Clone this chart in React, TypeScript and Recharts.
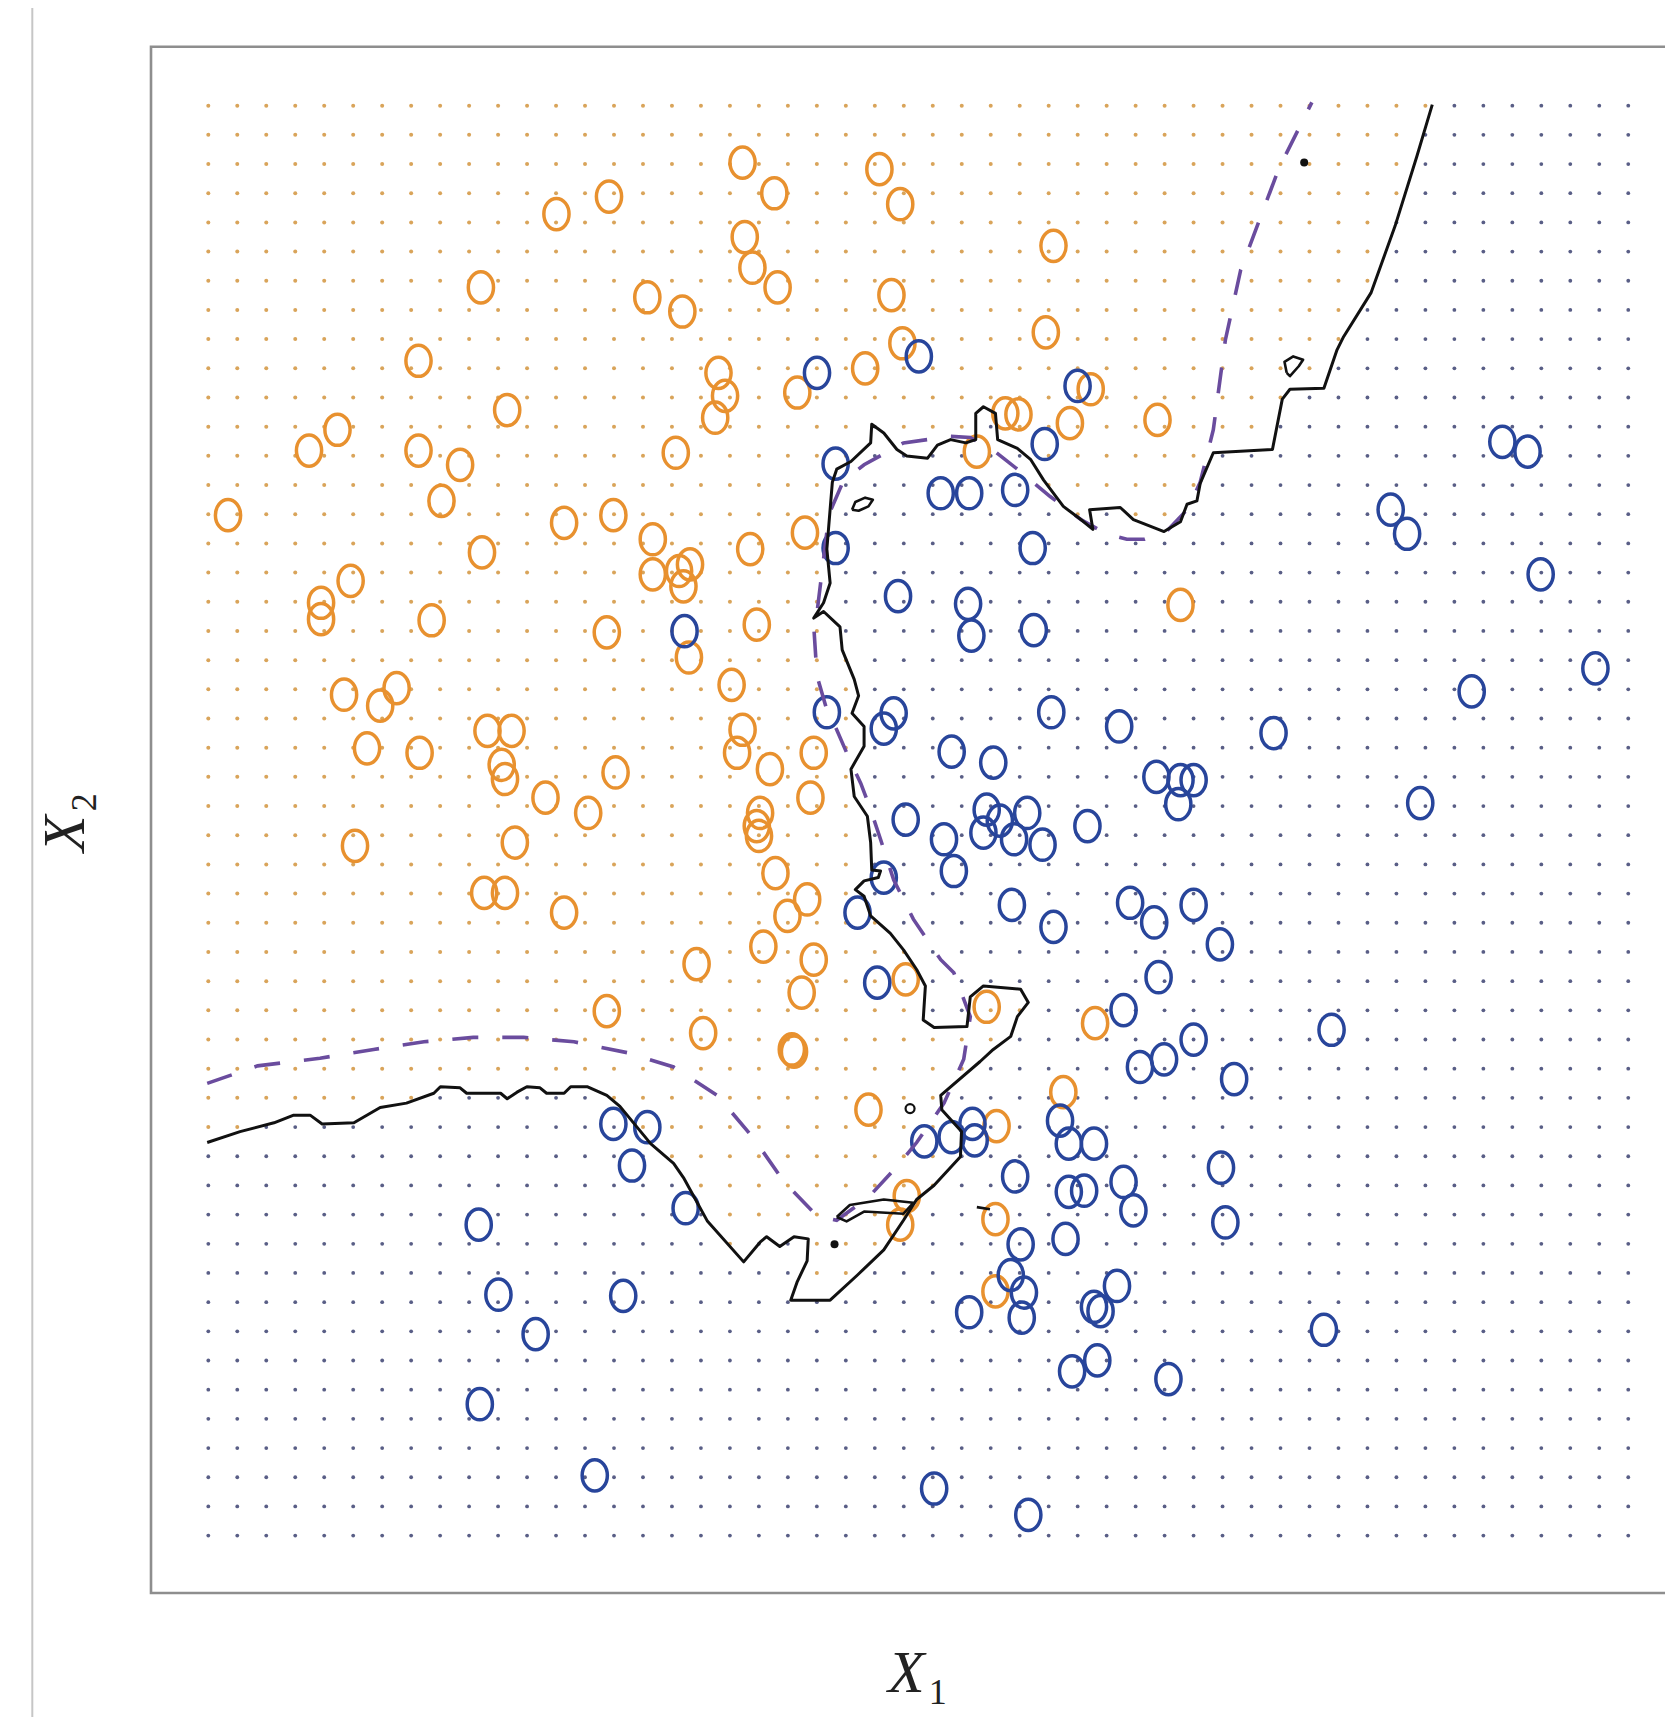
import { ScatterChart, Scatter, XAxis, YAxis } from 'recharts'

type Pt = [number, number]

// training observations (X1, X2)
const orangePoints: Pt[] = [
  [0.18, 9.32], [0.92, 9.91], [1.18, 10.1], [1.03, 8.52], [1.03, 8.37], [1.3, 8.72], [1.24, 7.68], [1.57, 7.58],
  [1.72, 7.74], [1.45, 7.19], [1.93, 7.15], [1.34, 6.3], [1.92, 10.73], [1.92, 9.91], [2.3, 9.78], [2.13, 9.45],
  [2.49, 11.4], [2.5, 8.98], [2.04, 8.36], [2.73, 10.28], [3.18, 12.07], [3.66, 12.23], [3.25, 9.25], [3.7, 9.32],
  [2.55, 7.35], [2.77, 7.35], [2.68, 7.04], [2.71, 6.91], [3.08, 6.74], [3.47, 6.6], [3.72, 6.97], [2.8, 6.33],
  [2.52, 5.87], [2.71, 5.87], [3.25, 5.69], [3.64, 8.25], [3.64, 4.79], [4.01, 11.31], [4.33, 11.18], [4.27, 9.89],
  [4.06, 9.1], [4.06, 8.78], [4.3, 8.81], [4.4, 8.87], [4.34, 8.67], [4.39, 8.02], [4.88, 12.54], [5.17, 12.26],
  [4.9, 11.86], [4.97, 11.58], [5.2, 11.4], [4.66, 10.62], [4.72, 10.41], [4.63, 10.21], [4.95, 9.01], [5.01, 8.32],
  [4.78, 7.77], [4.88, 7.36], [4.83, 7.15], [5.13, 7.0], [5.53, 7.15], [5.5, 6.74], [5.04, 6.6], [5.01, 6.48],
  [5.03, 6.39], [5.18, 6.05], [5.47, 5.81], [5.29, 5.66], [5.07, 5.38], [5.53, 5.26], [5.42, 4.96], [4.46, 5.22],
  [4.52, 4.59], [5.33, 4.44], [5.35, 4.42], [5.38, 10.44], [5.45, 9.16], [6.13, 12.48], [6.32, 12.16], [6.24, 11.33],
  [6.34, 10.89], [6.0, 10.66], [7.72, 11.78], [7.65, 10.99], [8.67, 10.19], [7.87, 10.16], [8.06, 10.47], [7.28, 10.25],
  [7.4, 10.24], [7.02, 9.9], [8.88, 8.5], [6.37, 5.08], [7.11, 4.83], [8.1, 4.68], [7.81, 4.05], [6.03, 3.89],
  [7.2, 3.74], [6.38, 3.1], [6.32, 2.84], [7.19, 2.89], [7.19, 2.23],
]

const bluePoints: Pt[] = [
  [5.56, 10.62], [6.49, 10.77], [7.94, 10.5], [7.64, 9.97], [5.73, 9.79], [6.69, 9.52], [6.95, 9.52], [7.37, 9.55],
  [5.73, 9.02], [7.53, 9.02], [6.3, 8.58], [6.94, 8.51], [6.97, 8.22], [7.54, 8.27], [4.35, 8.26], [5.65, 7.52],
  [6.17, 7.37], [6.26, 7.51], [7.7, 7.52], [8.32, 7.39], [9.73, 7.33], [11.54, 7.71], [12.67, 7.92], [12.17, 8.78],
  [10.8, 9.37], [10.95, 9.15], [11.82, 9.99], [12.05, 9.9], [6.79, 7.16], [7.17, 7.06], [8.66, 6.93], [8.88, 6.9],
  [9.0, 6.9], [8.86, 6.68], [11.07, 6.69], [6.37, 6.54], [6.72, 6.36], [6.81, 6.07], [7.11, 6.63], [7.08, 6.42],
  [7.36, 6.36], [7.48, 6.6], [7.62, 6.31], [7.23, 6.53], [8.03, 6.48], [6.17, 6.01], [5.93, 5.69], [7.34, 5.76],
  [7.72, 5.56], [8.42, 5.78], [8.64, 5.6], [9.0, 5.76], [9.24, 5.4], [8.68, 5.1], [6.11, 5.05], [8.36, 4.8],
  [8.51, 4.28], [8.73, 4.35], [9.0, 4.53], [9.37, 4.17], [10.26, 4.62], [3.7, 3.76], [4.01, 3.73], [3.87, 3.38],
  [4.36, 2.99], [2.47, 2.84], [2.65, 2.2], [3.79, 2.19], [2.99, 1.84], [2.48, 1.2], [3.53, 0.55], [6.54, 3.6],
  [6.79, 3.64], [6.98, 3.76], [7.0, 3.61], [7.78, 3.79], [7.86, 3.58], [8.09, 3.58], [7.37, 3.28], [7.86, 3.14],
  [8.0, 3.15], [8.36, 3.23], [8.45, 2.97], [9.25, 3.36], [9.29, 2.86], [7.42, 2.66], [7.83, 2.71], [7.33, 2.38],
  [7.45, 2.22], [7.43, 1.99], [6.95, 2.04], [8.09, 2.09], [8.15, 2.05], [8.3, 2.28], [7.89, 1.5], [8.12, 1.6],
  [8.77, 1.43], [10.19, 1.88], [6.63, 0.43], [7.49, 0.19],
]

// KNN (K=1) decision boundary from left to top
const knnBoundary: Pt[] = [
  [-0.01, 3.59], [0.29, 3.69], [0.6, 3.77], [0.78, 3.84], [0.93, 3.84], [1.04, 3.76], [1.33, 3.77], [1.57, 3.91],
  [1.81, 3.95], [2.06, 4.04], [2.12, 4.1], [2.3, 4.09], [2.36, 4.04], [2.67, 4.04], [2.73, 3.99], [2.82, 4.05],
  [2.91, 4.1], [3.03, 4.09], [3.09, 4.04], [3.25, 4.04], [3.31, 4.1], [3.46, 4.1], [3.64, 4.02], [3.76, 3.92],
  [4.04, 3.58], [4.25, 3.4], [4.34, 3.27], [4.56, 2.87], [4.89, 2.5], [5.04, 2.68], [5.1, 2.73], [5.22, 2.64],
  [5.35, 2.73], [5.48, 2.71], [5.47, 2.51], [5.38, 2.32], [5.32, 2.15], [5.68, 2.15], [5.93, 2.38], [6.17, 2.61],
  [6.35, 2.88], [6.47, 3.07], [6.63, 3.2], [6.87, 3.46], [6.88, 3.69], [6.7, 3.89], [6.69, 4.02], [7.05, 4.33],
  [7.17, 4.44], [7.33, 4.56], [7.39, 4.74], [7.49, 4.87], [7.42, 4.99], [7.08, 5.02], [6.96, 4.92], [6.93, 4.65],
  [6.63, 4.64], [6.53, 4.71], [6.55, 5.02], [6.47, 5.17], [6.35, 5.35], [6.23, 5.5], [6.05, 5.66], [5.99, 5.84],
  [5.91, 5.9], [5.99, 5.98], [6.12, 6.01], [6.14, 6.07], [6.06, 6.08], [6.05, 6.33], [6.02, 6.57], [5.9, 6.75],
  [5.87, 7.0], [5.99, 7.21], [5.99, 7.39], [5.88, 7.51], [5.94, 7.67], [5.9, 7.82], [5.79, 8.09], [5.77, 8.3],
  [5.62, 8.44], [5.53, 8.38], [5.62, 8.52], [5.68, 8.7], [5.65, 9.01], [5.7, 9.62], [5.74, 9.74], [5.87, 9.81],
  [6.05, 9.98], [6.06, 10.15], [6.17, 10.07], [6.29, 9.92], [6.38, 9.86], [6.57, 9.84], [6.66, 9.96], [6.78, 10.01],
  [6.92, 9.98], [7.01, 10.01], [7.01, 10.25], [7.08, 10.31], [7.19, 10.25], [7.21, 10.01], [7.39, 9.93], [7.51, 9.83],
  [7.63, 9.64], [7.81, 9.4], [7.97, 9.28], [8.08, 9.19], [8.05, 9.37], [8.33, 9.39], [8.45, 9.28], [8.73, 9.17],
  [8.88, 9.26], [8.94, 9.42], [9.03, 9.45], [9.06, 9.61], [9.18, 9.89], [9.72, 9.92], [9.81, 10.38], [9.88, 10.47],
  [10.19, 10.48], [10.31, 10.83], [10.37, 10.95], [10.62, 11.35], [10.84, 11.96], [11.04, 12.6], [11.18, 13.07],
]

const knnLoops: Pt[][] = [
  [[5.88, 9.37], [5.91, 9.44], [6.0, 9.48], [6.07, 9.46], [6.03, 9.4], [5.94, 9.36], [5.88, 9.37]],
  [[9.85, 10.62], [9.83, 10.72], [9.91, 10.77], [10.0, 10.74], [9.96, 10.68], [9.88, 10.59], [9.85, 10.62]],
  [[5.74, 2.91], [5.86, 3.02], [6.17, 3.07], [6.44, 3.04], [6.35, 2.94], [5.99, 2.96], [5.83, 2.87], [5.74, 2.91]],
  [[7.02, 3.0], [7.14, 2.98]],
]
const knnDots: Pt[] = [[10.01, 12.54], [5.72, 2.66]]
const knnRings: Pt[] = [[6.41, 3.9]]

// Bayes decision boundary
const bayesBoundary: Pt[] = [
  [-0.01, 4.13], [0.45, 4.29], [1.02, 4.36], [1.51, 4.44], [1.97, 4.51], [2.42, 4.55], [2.88, 4.55], [3.34, 4.51],
  [3.83, 4.41], [4.25, 4.28], [4.65, 4.02], [4.98, 3.63], [5.26, 3.23], [5.56, 2.92], [5.74, 2.88], [6.03, 3.09],
  [6.29, 3.37], [6.47, 3.59], [6.72, 3.95], [6.9, 4.35], [6.96, 4.74], [6.81, 5.14], [6.69, 5.26], [6.44, 5.63],
  [6.26, 5.99], [6.14, 6.36], [6.05, 6.63], [5.96, 6.87], [5.87, 7.06], [5.74, 7.36], [5.65, 7.54], [5.56, 7.85],
  [5.53, 8.31], [5.56, 8.43], [5.62, 8.92], [5.67, 9.33], [5.8, 9.63], [5.99, 9.78], [6.35, 9.98], [6.78, 10.04],
  [6.96, 10.03], [7.2, 9.89], [7.39, 9.74], [7.69, 9.49], [7.97, 9.28], [8.2, 9.15], [8.39, 9.1], [8.55, 9.1],
  [8.76, 9.18], [8.95, 9.38], [9.06, 9.62], [9.18, 10.1], [9.29, 10.92], [9.43, 11.56], [9.78, 12.49], [10.08, 13.09],
]

const GRID_SIZE = 50
const GRID_X_MAX = 12.97
const GRID_Y_MAX = 13.06

const ORANGE = '#E8912F'
const BLUE = '#28459B'
const ORANGE_DOT = '#D9A45A'
const BLUE_DOT = '#595E86'
const PURPLE = '#6A4C9E'

const rows = (pts: Pt[]) => pts.map(([x, y]) => ({ x, y }))

function insidePolygon(x: number, y: number, poly: Pt[]) {
  let inside = false
  for (let i = 0, j = poly.length - 1; i < poly.length; j = i++) {
    const [xi, yi] = poly[i]
    const [xj, yj] = poly[j]
    if (yi > y !== yj > y && x < ((xj - xi) * (y - yi)) / (yj - yi) + xi) inside = !inside
  }
  return inside
}

// orange side of the KNN boundary: closed round the top left corner
const orangeRegion: Pt[] = [...knnBoundary, [11.18, 14.5], [-1.5, 14.5], [-1.5, 3.59]]

const orangeGrid: { x: number; y: number }[] = []
const blueGrid: { x: number; y: number }[] = []
for (let i = 0; i < GRID_SIZE; i++) {
  for (let j = 0; j < GRID_SIZE; j++) {
    const x = (i * GRID_X_MAX) / (GRID_SIZE - 1)
    const y = (j * GRID_Y_MAX) / (GRID_SIZE - 1)
    if (insidePolygon(x, y, orangeRegion)) orangeGrid.push({ x, y })
    else blueGrid.push({ x, y })
  }
}

const ringShape = (color: string) => (p: any) => (
  <ellipse cx={p.cx} cy={p.cy} rx={12.6} ry={15.6} fill="none" stroke={color} strokeWidth={3.5} />
)
const dotShape = (color: string, r: number) => (p: any) => <circle cx={p.cx} cy={p.cy} r={r} fill={color} />
const openDot = (p: any) => <circle cx={p.cx} cy={p.cy} r={4.5} fill="none" stroke="#111" strokeWidth={2.2} />
const noShape = () => <g />

const W = 1665
const H = 1717

export default function App() {
  return (
    <div style={{ position: 'absolute', left: 0, top: 0, width: W, height: H, background: '#fff' }}>
      <svg width={W} height={H} style={{ position: 'absolute', left: 0, top: 0 }}>
        <line x1={32.3} y1={8} x2={32.3} y2={H} stroke="#c6c6c6" strokeWidth={2} />
        <path d={`M ${W} 46.7 H 151 V 1593 H ${W}`} fill="none" stroke="#8e8e8e" strokeWidth={2.6} />
        <text x={888} y={1692} fontFamily="'Liberation Serif', serif" fontStyle="italic" fontSize={60} fill="#222">
          X
          <tspan fontStyle="normal" fontSize={36} dx={4} dy={12}>
            1
          </tspan>
        </text>
        <text
          x={84}
          y={852}
          transform="rotate(-90 84 852)"
          fontFamily="'Liberation Serif', serif"
          fontStyle="italic"
          fontSize={60}
          fill="#222"
        >
          X
          <tspan fontStyle="normal" fontSize={36} dx={4} dy={12}>
            2
          </tspan>
        </text>
      </svg>
      <div style={{ position: 'absolute', left: 0, top: 0 }}>
        <ScatterChart width={W} height={H} margin={{ top: 2.74, right: 0.62, bottom: 71.91, left: 98.82 }}>
          <XAxis type="number" dataKey="x" domain={[-1, 13.3]} hide allowDataOverflow />
          <YAxis type="number" dataKey="y" domain={[-1, 14]} hide allowDataOverflow />
          <Scatter data={orangeGrid} shape={dotShape(ORANGE_DOT, 2)} isAnimationActive={false} />
          <Scatter data={blueGrid} shape={dotShape(BLUE_DOT, 1.9)} isAnimationActive={false} />
          <Scatter data={rows(orangePoints)} shape={ringShape(ORANGE)} isAnimationActive={false} />
          <Scatter data={rows(bluePoints)} shape={ringShape(BLUE)} isAnimationActive={false} />
          <Scatter
            data={rows(bayesBoundary)}
            shape={noShape}
            line={{ stroke: PURPLE, strokeWidth: 3.6, strokeDasharray: '26 24' }}
            isAnimationActive={false}
          />
          <Scatter
            data={rows(knnBoundary)}
            shape={noShape}
            line={{ stroke: '#111', strokeWidth: 3, strokeLinejoin: 'round' }}
            isAnimationActive={false}
          />
          {knnLoops.map((loop, k) => (
            <Scatter
              key={k}
              data={rows(loop)}
              shape={noShape}
              line={{ stroke: '#111', strokeWidth: 2.6, strokeLinejoin: 'round' }}
              isAnimationActive={false}
            />
          ))}
          <Scatter data={rows(knnDots)} shape={dotShape('#111', 4)} isAnimationActive={false} />
          <Scatter data={rows(knnRings)} shape={openDot} isAnimationActive={false} />
        </ScatterChart>
      </div>
    </div>
  )
}
